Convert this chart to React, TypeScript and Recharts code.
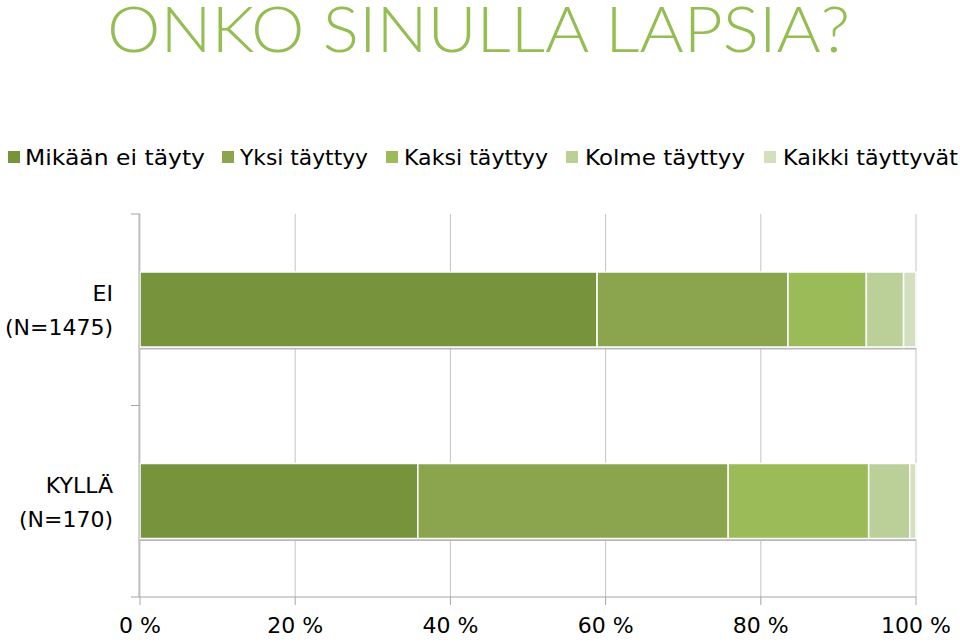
import React from "react";
import {
  BarChart,
  Bar,
  XAxis,
  YAxis,
  CartesianGrid,
  Legend,
} from "recharts";

// ---- data ----
const title = "ONKO SINULLA LAPSIA?";
const categories = ["EI", "KYLLÄ"];
const categorySubLabels = ["(N=1475)", "(N=170)"];
const seriesNames = [
  "Mikään ei täyty",
  "Yksi täyttyy",
  "Kaksi täyttyy",
  "Kolme täyttyy",
  "Kaikki täyttyvät",
];
const mikaanEiTayty = [58.9, 35.8];
const yksiTayttyy = [24.6, 40.0];
const kaksiTayttyy = [10.1, 18.1];
const kolmeTayttyy = [4.8, 5.3];
const kaikkiTayttyvat = [1.6, 0.8];
const xTicks = [0, 20, 40, 60, 80, 100];
const edgeTicks = [0, 0.5, 1];

// ---- styling ----
const seriesKeys = ["s0", "s1", "s2", "s3", "s4"];
const seriesColors = ["#77933C", "#8BA54E", "#9BBB59", "#BBCF98", "#D3DFBF"];
const FONT = "'DejaVu Sans', 'Noto Sans', sans-serif";
const TITLE_FONT = "Lato, 'DejaVu Sans', sans-serif";
const legendSquareX = [8, 222, 386, 566, 764];
const legendTextX = [25, 240, 404, 585, 783];
const legendTextW = [180, 128, 144, 160, 175];

const allSeries = [mikaanEiTayty, yksiTayttyy, kaksiTayttyy, kolmeTayttyy, kaikkiTayttyvat];
const data = categories.map((c, i) => {
  const row: Record<string, any> = { name: c, sub: categorySubLabels[i] };
  allSeries.forEach((s, k) => {
    row[seriesKeys[k]] = s[i];
  });
  return row;
});

const YTick = (props: any) => {
  const { y, payload } = props;
  const idx = categories.indexOf(payload.value);
  return (
    <g>
      <text x={113} y={y - 16} textAnchor="end" dominantBaseline="central" fontFamily={FONT} fontSize={22} fill="#000">
        {payload.value}
      </text>
      <text x={113} y={y + 18} textAnchor="end" dominantBaseline="central" fontFamily={FONT} fontSize={22} fill="#000">
        {categorySubLabels[idx]}
      </text>
    </g>
  );
};

const EmptyTick = () => <g />;

const ShadowBar = (props: any) => {
  const { x, y, width, height, fill } = props;
  if (!width || width <= 0) return <g />;
  return (
    <g>
      <rect x={x} y={y + height + 0.5} width={width} height={2} fill="#b8b8b8" />
      <rect x={x} y={y} width={width} height={height} fill={fill} stroke="#ffffff" strokeWidth={1.5} />
    </g>
  );
};

const LegendContent = () => (
  <svg width={960} height={36} style={{ display: "block" }}>
    {seriesNames.map((n, i) => (
      <g key={n}>
        <rect x={legendSquareX[i]} y={11} width={12} height={12} fill={seriesColors[i]} />
        <text
          x={legendTextX[i]}
          y={25}
          fontFamily={FONT}
          fontSize={22}
          fill="#000"
          textLength={legendTextW[i]}
          lengthAdjust="spacingAndGlyphs"
        >
          {n}
        </text>
      </g>
    ))}
  </svg>
);

export default function App() {
  return (
    <div style={{ position: "absolute", left: 0, top: 0, width: 960, height: 643, background: "#fff" }}>
      <svg width={960} height={72} style={{ position: "absolute", left: 0, top: 0 }}>
        <text
          x={107}
          y={52}
          fontFamily={TITLE_FONT}
          fontSize={64}
          fontWeight={300}
          fill="#94BE52"
          textLength={743}
          lengthAdjust="spacingAndGlyphs"
        >
          {title}
        </text>
      </svg>
      <BarChart
        width={960}
        height={643}
        data={data}
        layout="vertical"
        margin={{ top: 178, right: 44, bottom: 6, left: 9 }}
        barSize={75}
      >
        <CartesianGrid horizontal={false} vertical={true} stroke="#c4c4c4" yAxisId="b_cat" />
        <XAxis
          type="number"
          domain={[0, 100]}
          ticks={xTicks}
          tickFormatter={(v: number) => `${v} %`}
          height={40}
          axisLine={{ stroke: "#a6a6a6" }}
          tickLine={{ stroke: "#a6a6a6" }}
          tickSize={8}
          tickMargin={12}
          tick={{ fill: "#000", fontSize: 22, fontFamily: FONT }}
          interval={0}
        />
        <YAxis
          yAxisId="a_edges"
          type="number"
          domain={[0, 1]}
          ticks={edgeTicks}
          allowDataOverflow
          width={1}
          tick={<EmptyTick />}
          axisLine={false}
          tickSize={9}
          tickLine={{ stroke: "#a6a6a6" }}
          interval={0}
        />
        <YAxis
          yAxisId="b_cat"
          type="category"
          dataKey="name"
          width={130}
          axisLine={{ stroke: "#a6a6a6" }}
          tickLine={false}
          tick={<YTick />}
        />
        <Legend
          verticalAlign="top"
          content={<LegendContent />}
          wrapperStyle={{ position: "absolute", top: 140, left: 0, width: 960, height: 36 }}
        />
        {seriesKeys.map((k, i) => (
          <Bar
            key={k}
            yAxisId="b_cat"
            dataKey={k}
            name={seriesNames[i]}
            stackId="a"
            fill={seriesColors[i]}
            shape={<ShadowBar />}
            isAnimationActive={false}
          />
        ))}
      </BarChart>
    </div>
  );
}
